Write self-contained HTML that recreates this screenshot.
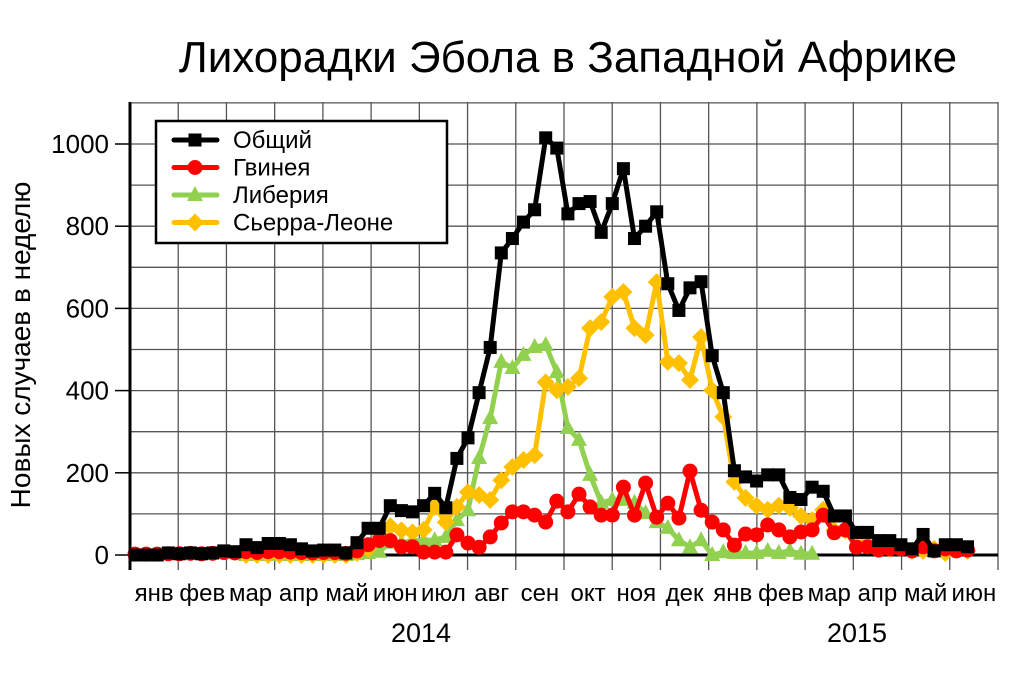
<!DOCTYPE html>
<html><head><meta charset="utf-8"><style>body{margin:0;background:#fff}svg{display:block}text{font-family:"Liberation Sans","DejaVu Sans",sans-serif}</style></head>
<body>
<svg id="chart" width="1024" height="683" viewBox="0 0 1024 683" xmlns="http://www.w3.org/2000/svg">
<text x="568" y="72" font-size="44" text-anchor="middle">Лихорадки Эбола в Западной Африке</text>
<text transform="translate(30,345) rotate(-90)" font-size="28" text-anchor="middle">Новых случаев в неделю</text>
<g id="grid"></g>
<g id="axes"></g>
<g id="series"></g>
<g id="legend"></g>
</svg>
<script>
const months = ["янв","фев","мар","апр","май","июн","июл","авг","сен","окт","ноя","дек","янв","фев","мар","апр","май","июн"];
const years = ["2014","2015"];
const yTicks = [0,200,400,600,800,1000];
const seriesNames = ["Общий","Гвинея","Либерия","Сьерра-Леоне"];
const total = [0,0,0,5,3,5,3,5,10,8,25,18,28,28,25,15,10,12,12,5,30,65,65,120,108,105,120,150,115,235,285,395,505,735,770,810,840,1015,990,830,855,860,785,855,940,770,800,835,660,595,650,665,485,395,205,190,180,195,195,140,135,165,155,95,95,55,55,35,35,25,15,50,10,25,25,20];
const guinea = [2,2,2,3,3,4,3,4,6,5,8,6,8,8,7,6,5,6,6,4,10,25,35,35,20,20,7,7,7,49,29,19,44,78,105,105,97,80,131,105,148,117,97,97,165,97,175,92,126,90,204,109,80,61,24,51,49,73,61,44,56,61,97,54,61,19,20,12,15,15,10,20,10,15,10,12];
const liberia = [null,null,null,null,null,null,null,null,null,null,0,0,0,0,0,0,0,0,0,0,2,5,8,30,30,35,36,36,44,85,109,236,333,470,455,487,506,511,445,309,280,195,127,134,134,127,102,80,66,36,19,36,0,7,5,5,5,10,5,10,3,3];
const sierra = [null,null,null,null,null,null,null,null,null,null,0,0,0,0,0,0,0,0,0,0,5,15,50,70,60,55,61,117,80,117,153,146,134,182,214,231,243,420,401,409,430,552,567,628,640,552,535,664,470,467,426,530,401,336,178,139,120,110,120,115,95,85,110,60,60,40,30,25,15,20,10,10,15,5,15,10];

const NS="http://www.w3.org/2000/svg";
const X0=130,X1=998,YT=102,Y0=555,PPU=0.411;
const xW=i=>135+11.1*i;
const yV=v=>Y0-v*PPU;
const mW=(X1-X0)/18;
function mk(tag,attrs,parent){const e=document.createElementNS(NS,tag);for(const k in attrs)e.setAttribute(k,attrs[k]);parent.appendChild(e);return e;}
const grid=document.getElementById('grid'),axes=document.getElementById('axes'),ser=document.getElementById('series'),leg=document.getElementById('legend');
for(let v=100;v<=1100;v+=100){if(yV(v)<YT)break;const l=mk('line',{x1:X0,x2:X1,y1:yV(v),y2:yV(v),stroke:'#555','stroke-width':1.3},grid);

}
for(let k=1;k<=18;k++){const x=X0+mW*k;const l=mk('line',{x1:x,x2:x,y1:YT,y2:570,stroke:'#555','stroke-width':1.3},grid);

}
const ya=mk('line',{x1:X0,x2:X0,y1:YT,y2:570,stroke:'#000','stroke-width':3},axes);


const xa=mk('line',{x1:X0,x2:X1,y1:Y0,y2:Y0,stroke:'#000','stroke-width':3},axes);


yTicks.forEach(v=>{const t=mk('line',{x1:115,x2:X0,y1:yV(v),y2:yV(v),stroke:'#000','stroke-width':1.5},axes);


const tx=mk('text',{x:109,y:yV(v)+9,'font-size':26,'text-anchor':'end'},axes);tx.textContent=v;

});
months.forEach((m,k)=>{const tx=mk('text',{x:X0+mW*(k+0.5),y:601,'font-size':24,'text-anchor':'middle'},axes);tx.textContent=m;

});
[[421,years[0]],[857,years[1]]].forEach(([x,s])=>{const tx=mk('text',{x:x,y:642,'font-size':27,'text-anchor':'middle'},axes);tx.textContent=s;

});
function marker(kind,x,y,color,parent){let e;
if(kind==='sq')e=mk('rect',{x:x-6.5,y:y-6.5,width:13,height:13,fill:color},parent);
else if(kind==='ci')e=mk('circle',{cx:x,cy:y,r:7.5,fill:color},parent);
else if(kind==='tr')e=mk('polygon',{points:`${x},${y-9} ${x-8},${y+6} ${x+8},${y+6}`,fill:color},parent);
else e=mk('polygon',{points:`${x},${y-9} ${x+9},${y} ${x},${y+9} ${x-9},${y}`,fill:color},parent);
return e;}
function drawSeries(data,color,kind,name){const g=mk('g',{},ser);


let pts=[];data.forEach((v,i)=>{if(v!==null)pts.push([xW(i),yV(v)]);});
const p=mk('polyline',{points:pts.map(p=>p.join(',')).join(' '),fill:'none',stroke:color,'stroke-width':5,'stroke-linejoin':'round'},g);


pts.forEach(([x,y])=>{const m=marker(kind,x,y,color,g);

});}
drawSeries(liberia,'#92d050','tr','liberia-series');
drawSeries(sierra,'#ffc000','di','sierra-leone-series');
drawSeries(guinea,'#ff0000','ci','guinea-series');
drawSeries(total,'#000000','sq','total-series');
const box=mk('rect',{x:156,y:121,width:291,height:122,fill:'#fff',stroke:'#000','stroke-width':2.5},leg);


const cols=['#000000','#ff0000','#92d050','#ffc000'],kinds=['sq','ci','tr','di'];
seriesNames.forEach((n,k)=>{const y=140+27.5*k;const g=mk('g',{},leg);


mk('line',{x1:174,x2:217,y1:y,y2:y,stroke:cols[k],'stroke-width':5,'stroke-linecap':'round'},g);
marker(kinds[k],195,y,cols[k],g);
const t=mk('text',{x:233,y:y+8,'font-size':24},g);t.textContent=n;});
</script>
</body></html>
